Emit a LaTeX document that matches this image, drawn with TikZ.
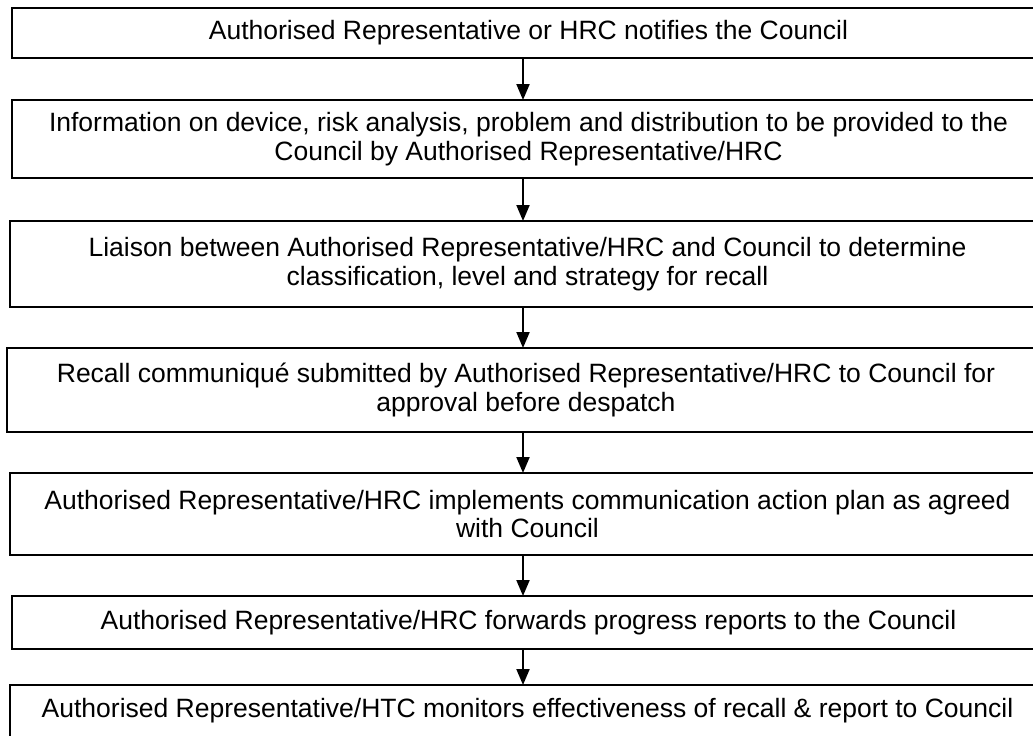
\documentclass[tikz,border=0pt]{standalone}
\usepackage{fontspec}
\setmainfont{Liberation Sans}
\usepackage{tikz}
\usetikzlibrary{arrows.meta}
\tikzset{
  recallbox/.style={
    rectangle, draw=black, line width=1pt,
    minimum width=#1, text centered, align=center,
    inner sep=0pt, outer sep=0pt,
    font=\fontsize{13.25}{14.2}\selectfont
  },
  recallarrow/.style={-{Triangle[width=6.5pt,length=8pt]}, line width=1pt, black},
}

\begin{document}
\begin{tikzpicture}[x=0.5pt, y=-0.5pt]
  \useasboundingbox (0,0) rectangle (1033,735);
  \clip (0,0) rectangle (1033,735);
  \coordinate (axis) at (523,0);

  \node[recallbox=516.5pt, minimum height=25pt] (notify) at (528.5,33)
    {Authorised Representative or HRC notifies the Council};
  \node[recallbox=516.5pt, minimum height=39pt] (info) at (528.5,139)
    {Information on device, risk analysis, problem and distribution to be provided to the\\
     Council by Authorised Representative/HRC};
  \node[recallbox=517.5pt, minimum height=43pt] (liaison) at (527.5,264)
    {Liaison between Authorised Representative/HRC and Council to determine\\
     classification, level and strategy for recall};
  \node[recallbox=519pt, minimum height=42pt] (communique) at (526,390)
    {Recall communiqué submitted by Authorised Representative/HRC to Council for\\
     approval before despatch};
  \node[recallbox=517.5pt, minimum height=41pt] (plan) at (527.5,514)
    {Authorised Representative/HRC implements communication action plan as agreed\\
     with Council};
  \node[recallbox=516.5pt, minimum height=26.5pt] (progress) at (528.5,622.5)
    {Authorised Representative/HRC forwards progress reports to the Council};
  \node[recallbox=517.5pt, minimum height=26pt] (monitor) at (527.5,711)
    {Authorised Representative/HTC monitors effectiveness of recall \& report to Council};

  \draw[recallarrow] (notify.south -| axis) -- (info.north -| axis);
  \draw[recallarrow] (info.south -| axis) -- (liaison.north -| axis);
  \draw[recallarrow] (liaison.south -| axis) -- (communique.north -| axis);
  \draw[recallarrow] (communique.south -| axis) -- (plan.north -| axis);
  \draw[recallarrow] (plan.south -| axis) -- (progress.north -| axis);
  \draw[recallarrow] (progress.south -| axis) -- (monitor.north -| axis);
\end{tikzpicture}
\end{document}
